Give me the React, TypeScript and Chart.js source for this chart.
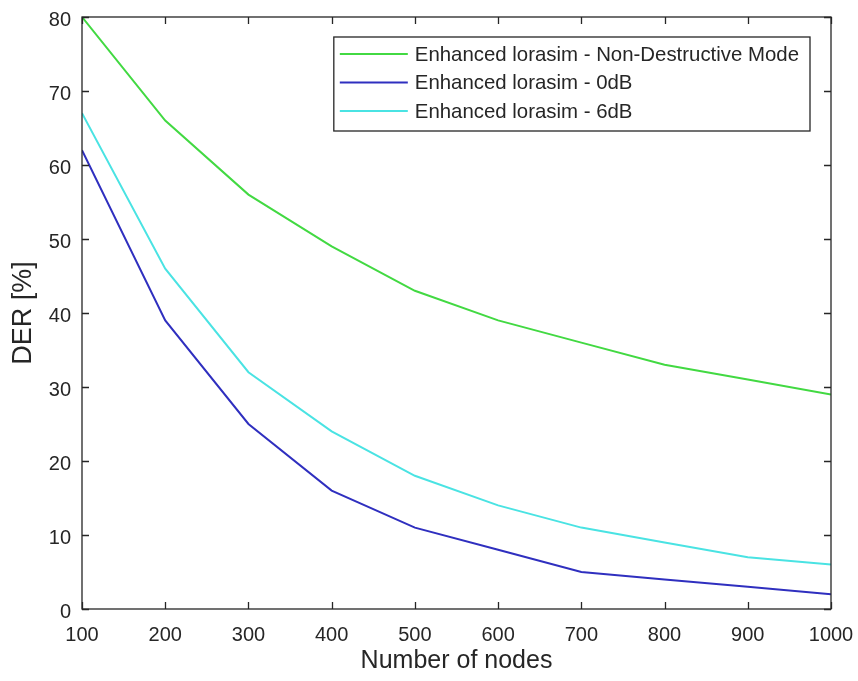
import React, { useEffect, useRef } from "react";
import { Chart, registerables } from "chart.js";

Chart.register(...registerables);

const nodes = [100, 200, 300, 400, 500, 600, 700, 800, 900, 1000];
const nonDestructive = [80, 66, 56, 49, 43, 39, 36, 33, 31, 29];
const zeroDB = [62, 39, 25, 16, 11, 8, 5, 4, 3, 2];
const sixDB = [67, 46, 32, 24, 18, 14, 11, 9, 7, 6];
const seriesLabels = [
  "Enhanced lorasim - Non-Destructive Mode",
  "Enhanced lorasim - 0dB",
  "Enhanced lorasim - 6dB",
];
const xTicks = [100, 200, 300, 400, 500, 600, 700, 800, 900, 1000];
const yTicks = [0, 10, 20, 30, 40, 50, 60, 70, 80];

const FONT = "'Liberation Sans', Arial, Helvetica, sans-serif";
const AXIS = "#262626";

const boxPlugin = {
  id: "matlabBox",
  afterDraw(chart: any) {
    const { ctx, chartArea: a, scales } = chart;
    ctx.save();
    ctx.strokeStyle = AXIS;
    ctx.lineWidth = 1.3;
    ctx.strokeRect(a.left, a.top, a.right - a.left, a.bottom - a.top);
    const tl = 7;
    ctx.beginPath();
    for (const v of xTicks) {
      const x = Math.round(scales.x.getPixelForValue(v)) + 0.5;
      ctx.moveTo(x, a.bottom);
      ctx.lineTo(x, a.bottom - tl);
      ctx.moveTo(x, a.top);
      ctx.lineTo(x, a.top + tl);
    }
    for (const v of yTicks) {
      const y = Math.round(scales.y.getPixelForValue(v)) + 0.5;
      ctx.moveTo(a.left, y);
      ctx.lineTo(a.left + tl, y);
      ctx.moveTo(a.right, y);
      ctx.lineTo(a.right - tl, y);
    }
    ctx.stroke();

    // legend
    const font = `20.4px ${FONT}`;
    ctx.font = font;
    const datasets = chart.data.datasets;
    let maxW = 0;
    for (const d of datasets) maxW = Math.max(maxW, ctx.measureText(d.label).width);
    const rowH = 28.5;
    const lineLen = 68;
    const padL = 6;
    const gap = 7;
    const padR = 11;
    const boxW = padL + lineLen + gap + maxW + padR;
    const boxH = 94;
    const right = a.right - 21;
    const left = right - boxW;
    const top = a.top + 20;
    ctx.fillStyle = "#ffffff";
    ctx.fillRect(left, top, boxW, boxH);
    ctx.strokeStyle = AXIS;
    ctx.lineWidth = 1.3;
    ctx.strokeRect(left, top, boxW, boxH);
    ctx.textBaseline = "middle";
    ctx.textAlign = "left";
    datasets.forEach((d: any, i: number) => {
      const y = top + 17 + i * rowH;
      ctx.strokeStyle = d.borderColor;
      ctx.lineWidth = 2;
      ctx.beginPath();
      ctx.moveTo(left + padL, y);
      ctx.lineTo(left + padL + lineLen, y);
      ctx.stroke();
      ctx.fillStyle = AXIS;
      ctx.fillText(d.label, left + padL + lineLen + gap, y + 1);
    });
    ctx.restore();
  },
};

export default function App() {
  const ref = useRef<HTMLCanvasElement>(null);
  useEffect(() => {
    if (!ref.current) return;
    const mk = (label: string, data: number[], color: string) => ({
      label,
      data: nodes.map((n, i) => ({ x: n, y: data[i] })),
      borderColor: color,
      backgroundColor: color,
      borderWidth: 2,
      pointRadius: 0,
      tension: 0,
      fill: false,
    });
    const chart = new Chart(ref.current, {
      type: "line",
      data: {
        datasets: [
          mk(seriesLabels[0], nonDestructive, "#42d942"),
          mk(seriesLabels[1], zeroDB, "#2f2fbf"),
          mk(seriesLabels[2], sixDB, "#4ae3e3"),
        ],
      },
      options: {
        animation: false,
        responsive: false,
        devicePixelRatio: 1,
        layout: { padding: { top: 17, right: 27, left: 0, bottom: 0 } },
        plugins: { legend: { display: false }, tooltip: { enabled: false } },
        scales: {
          x: {
            type: "linear",
            min: 100,
            max: 1000,
            afterFit: (s: any) => {
              s.height = 72;
              s.paddingLeft = 0;
              s.paddingRight = 0;
            },
            afterBuildTicks: (s: any) => {
              s.ticks = xTicks.map((v) => ({ value: v }));
            },
            grid: { display: false, drawTicks: false },
            border: { display: false },
            ticks: {
              autoSkip: false,
              maxRotation: 0,
              padding: 14,
              color: AXIS,
              font: { size: 20, family: FONT },
              callback: (v: any) => String(v),
            },
            title: {
              display: true,
              text: "Number of nodes",
              color: AXIS,
              font: { size: 25, family: FONT },
              padding: { top: 0, bottom: 5 },
            },
          },
          y: {
            type: "linear",
            min: 0,
            max: 80,
            afterFit: (s: any) => {
              s.width = 82;
              s.paddingTop = 0;
              s.paddingBottom = 0;
            },
            afterBuildTicks: (s: any) => {
              s.ticks = yTicks.map((v) => ({ value: v }));
            },
            grid: { display: false, drawTicks: false },
            border: { display: false },
            ticks: {
              padding: 11,
              labelOffset: 3,
              color: AXIS,
              font: { size: 20, family: FONT },
              callback: (v: any) => String(v),
            },
            title: {
              display: true,
              text: "DER [%]",
              color: AXIS,
              font: { size: 27, family: FONT },
              padding: { top: 7, bottom: 0 },
            },
          },
        },
      },
      plugins: [boxPlugin],
    });
    return () => chart.destroy();
  }, []);
  return (
    <div style={{ position: "absolute", left: 0, top: 0, width: 858, height: 681, background: "#fff" }}>
      <canvas ref={ref} width={858} height={681} style={{ width: 858, height: 681, display: "block" }} />
    </div>
  );
}
